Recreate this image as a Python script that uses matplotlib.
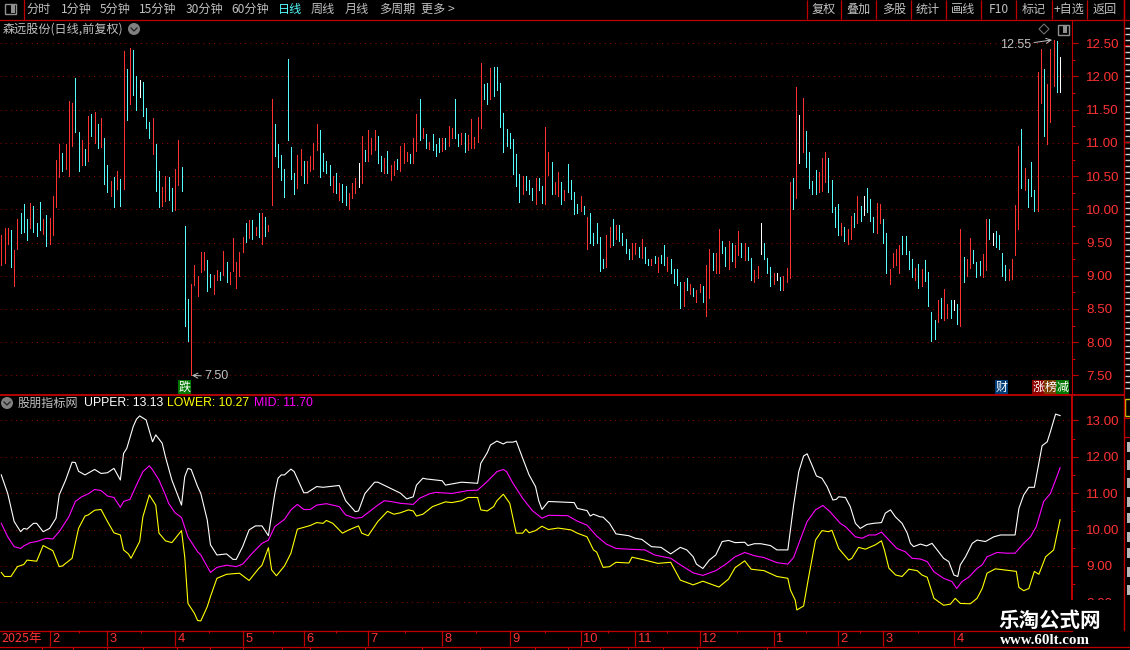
import matplotlib
matplotlib.use("Agg")
from matplotlib import pyplot as plt
from matplotlib.patches import Rectangle, Circle, Polygon
import numpy as np

plt.rcParams['font.family'] = ['Noto Sans CJK SC', 'DejaVu Sans']

# barras: maximo, minimo y color (r rojo, c cian, w blanco)
bar_high = [
    9.61, 9.72, 9.72, 9.69, 9.39, 9.85, 9.94, 10.08, 9.85, 10.1,
    10.05, 9.79, 10.11, 9.85, 9.91, 9.87, 10.2, 10.75, 10.99, 10.85,
    10.99, 11.63, 11.6, 11.97, 11.17, 11.05, 10.91, 11.41, 11.44, 11.46,
    11.28, 11.38, 11.08, 10.67, 10.43, 10.49, 10.58, 10.46, 12.38, 12.11,
    12.43, 12.4, 12.0, 11.94, 11.91, 11.52, 11.32, 11.38, 10.99, 10.58,
    10.34, 10.5, 10.49, 10.32, 10.61, 11.04, 10.64, 9.75, 8.65, 8.87,
    9.16, 8.99, 9.36, 9.36, 9.24, 9.03, 9.01, 9.09, 9.06, 9.37,
    9.21, 9.06, 9.57, 9.21, 9.36, 9.58, 9.79, 9.84, 9.84, 9.73,
    9.94, 9.94, 9.88, 9.76, 11.66, 11.29, 10.99, 10.82, 10.61, 12.26,
    10.94, 10.54, 10.82, 10.91, 10.72, 10.72, 10.81, 11.0, 11.28, 11.19,
    10.85, 10.73, 10.66, 10.5, 10.55, 10.4, 10.38, 10.35, 10.25, 10.4,
    10.47, 10.69, 11.1, 10.9, 11.19, 11.08, 11.2, 11.11, 10.81, 10.78,
    10.88, 10.66, 10.73, 10.76, 10.96, 11.0, 10.87, 10.84, 11.08, 11.43,
    11.66, 11.23, 11.14, 11.02, 11.14, 10.99, 11.08, 11.08, 11.08, 11.26,
    11.23, 11.66, 11.14, 11.15, 11.15, 11.12, 11.36, 11.09, 11.39, 12.2,
    11.88, 11.9, 12.13, 12.14, 12.14, 11.9, 11.45, 11.21, 11.15, 11.06,
    10.83, 10.53, 10.5, 10.5, 10.44, 10.32, 10.47, 10.47, 10.35, 11.24,
    10.86, 10.71, 10.41, 10.56, 10.41, 10.29, 10.68, 10.44, 10.26, 10.08,
    10.2, 10.05, 9.89, 9.95, 9.64, 9.8, 9.58, 9.25, 9.62, 9.73,
    9.86, 9.77, 9.77, 9.65, 9.56, 9.41, 9.49, 9.49, 9.43, 9.56,
    9.44, 9.25, 9.25, 9.29, 9.28, 9.31, 9.46, 9.28, 9.25, 9.1,
    9.1, 8.9, 8.9, 8.96, 8.88, 8.82, 8.78, 8.88, 8.85, 9.16,
    9.4, 9.35, 9.34, 9.71, 9.53, 9.44, 9.52, 9.49, 9.46, 9.67,
    9.49, 9.49, 9.44, 9.26, 9.08, 9.14, 9.8, 9.5, 9.26, 9.13,
    9.04, 9.04, 8.98, 9.0, 9.11, 10.41, 10.47, 11.84, 11.42, 11.67,
    11.18, 10.87, 10.42, 10.59, 10.56, 10.77, 10.87, 10.77, 10.44, 10.04,
    10.08, 9.8, 9.74, 9.71, 9.9, 9.95, 10.2, 10.05, 10.2, 10.32,
    10.16, 9.88, 10.1, 10.08, 9.86, 9.64, 9.1, 9.34, 9.4, 9.46,
    9.6, 9.6, 9.37, 9.25, 9.11, 9.17, 9.1, 9.23, 9.05, 8.46,
    8.34, 8.63, 8.66, 8.8, 8.58, 8.63, 8.64, 8.57, 9.71, 9.28,
    9.25, 9.57, 9.39, 9.21, 9.22, 9.33, 9.86, 9.86, 9.65, 9.67,
    9.61, 9.35, 9.16, 9.1, 9.25, 10.07, 10.96, 11.21, 10.62, 10.45,
    10.71, 10.29, 12.07, 12.41, 12.11, 11.89, 12.41, 12.55, 12.53, 12.3,
]
bar_low = [
    9.16, 9.19, 9.48, 9.13, 8.85, 9.4, 9.64, 9.66, 9.54, 9.72,
    9.66, 9.6, 9.69, 9.63, 9.45, 9.48, 9.61, 10.04, 10.49, 10.57,
    10.61, 10.5, 10.96, 11.16, 10.58, 10.66, 10.67, 10.72, 11.11, 11.0,
    10.93, 10.94, 10.38, 10.26, 10.2, 10.04, 10.31, 10.05, 10.31, 11.34,
    11.58, 11.72, 11.49, 11.69, 11.41, 11.23, 11.07, 10.84, 10.28, 10.04,
    10.05, 10.13, 10.14, 9.97, 9.99, 10.37, 10.28, 8.24, 8.02, 7.5,
    8.86, 8.69, 9.06, 9.09, 8.77, 8.83, 8.72, 8.94, 8.94, 9.01,
    8.91, 8.88, 9.07, 8.82, 9.0, 9.36, 9.51, 9.57, 9.55, 9.61,
    9.58, 9.48, 9.6, 9.67, 10.07, 10.81, 10.63, 10.44, 10.19, 11.05,
    10.46, 10.23, 10.32, 10.52, 10.4, 10.4, 10.58, 10.61, 10.9, 10.49,
    10.57, 10.55, 10.37, 10.26, 10.25, 10.14, 10.11, 10.07, 10.0, 10.17,
    10.25, 10.34, 10.4, 10.72, 10.72, 10.84, 10.9, 10.7, 10.58, 10.55,
    10.55, 10.44, 10.52, 10.6, 10.58, 10.69, 10.72, 10.69, 10.7, 10.88,
    11.05, 11.08, 10.93, 10.91, 10.9, 10.81, 10.87, 10.88, 10.91, 10.96,
    11.08, 11.08, 10.96, 10.98, 10.87, 10.9, 10.93, 10.93, 11.01, 11.22,
    11.66, 11.58, 11.66, 11.7, 11.79, 11.24, 10.87, 10.96, 10.93, 10.53,
    10.35, 10.11, 10.23, 10.29, 10.23, 10.14, 10.08, 10.29, 10.09, 10.08,
    10.51, 10.23, 10.23, 10.2, 10.08, 10.14, 10.26, 10.15, 9.93, 9.94,
    9.98, 9.93, 9.4, 9.5, 9.47, 9.49, 9.07, 9.11, 9.13, 9.44,
    9.46, 9.55, 9.53, 9.47, 9.35, 9.25, 9.25, 9.32, 9.28, 9.26,
    9.19, 9.16, 9.16, 9.19, 9.05, 9.19, 9.16, 9.07, 9.04, 8.89,
    8.86, 8.52, 8.55, 8.79, 8.72, 8.7, 8.61, 8.76, 8.61, 8.4,
    8.66, 9.08, 9.04, 9.04, 9.34, 9.14, 9.1, 9.22, 9.13, 9.31,
    9.28, 9.23, 9.23, 8.93, 8.91, 8.97, 9.32, 9.25, 9.04, 8.84,
    8.87, 8.93, 8.79, 8.79, 8.91, 8.97, 10.0, 10.17, 10.69, 10.86,
    10.63, 10.32, 10.23, 10.23, 10.26, 10.27, 10.41, 10.26, 9.96, 9.73,
    9.61, 9.61, 9.53, 9.48, 9.56, 9.73, 9.8, 9.83, 9.92, 9.96,
    9.83, 9.66, 9.65, 9.8, 9.5, 9.04, 8.87, 9.13, 9.16, 9.04,
    9.32, 9.32, 9.1, 8.98, 8.93, 8.82, 8.85, 8.92, 8.55, 8.02,
    8.05, 8.31, 8.36, 8.33, 8.37, 8.36, 8.49, 8.27, 8.25, 8.91,
    8.99, 9.11, 9.19, 8.98, 9.01, 8.98, 9.08, 9.55, 9.46, 9.43,
    9.41, 9.0, 8.93, 8.93, 8.95, 9.31, 9.71, 10.32, 10.29, 10.04,
    10.2, 9.98, 9.97, 11.6, 11.11, 10.98, 11.32, 11.86, 11.77, 11.77,
]
bar_kind = (
    "rrrcrrcccr" "cccrcrrrrc" "rrrccrcrcr" "crccrcrcrc" "rccwcccrcc"
    "rrccrrcccr" "rrrrccrrcr" "crrrrrcrcr" "crcrrccccc" "ccrrcrrrrc"
    "cccrcrccrr" "rwrcrrrccr" "crrcrrrcrr" "crcrcccrcr" "rccrcrrrrr"
    "ccrccccccc" "ccrcccrccr" "rcrrcrcccc" "rcrcccccrr" "crccccrrcr"
    "ccrcrccrcc" "ccrcrcrrcr" "rcrrccrcrr" "crccrrwccc" "rwcrrrcrwr"
    "ccccrrrccc" "crcrrcrcwc" "ccrrccrrrr" "ccccrcrccc" "crcrrcwcrc"
    "rrcccrrcwc" "cccrrrrcrc" "ccrrcrrrcw"
)

# indicador: posicion en barras y valor
upper_x = [0, 2, 4, 6, 7, 8, 10, 11, 13, 15, 17, 18, 20, 22, 23, 24, 26, 29, 31, 33, 35, 37, 38, 39, 41, 42, 43,
           45, 47, 48, 50, 51, 53, 56, 57, 58, 59, 61, 62, 64, 65, 67, 70, 72, 73, 75, 77, 79, 81, 83, 85, 86,
           87, 88, 90, 91, 94, 95, 98, 100, 105, 107, 110, 111, 113, 116, 117, 121, 124, 126, 128, 129, 131,
           132, 137, 138, 143, 148, 149, 151, 152, 154, 156, 157, 159, 160, 162, 164, 166, 167, 168, 170, 178,
           179, 182, 183, 184, 186, 187, 189, 191, 195, 197, 199, 202, 205, 208, 211, 213, 215, 216, 218, 220,
           222, 224, 226, 228, 231, 232, 234, 236, 239, 241, 244.4, 246.2, 247.8, 249.3, 250.4, 251.9, 253.3,
           255, 256.6, 258.4, 259.5, 260.2, 262.3, 263.8, 265.4, 266.9, 269, 271, 273.5, 274.7, 276.3, 277.8,
           279.9, 281.5, 282.5, 283.5, 285.6, 287.5, 289.2, 290.8, 292.8, 294.4, 296, 297.2, 298, 299.6, 301.7,
           303.2, 305.8, 308.4, 310.5, 315, 316.2, 317.7, 319.3, 321, 322, 323.4, 325, 326, 327.6, 329]
upper_y = [11.5, 10.99, 10.22, 9.94, 10.03, 10.01, 10.17, 10.17, 9.94, 10.03, 10.31, 10.95, 11.36, 11.85, 11.84,
           11.6, 11.5, 11.65, 11.54, 11.56, 11.68, 11.36, 12.09, 12.23, 12.83, 13.03, 13.12, 13.01, 12.41, 12.6,
           12.37, 12.0, 11.36, 10.67, 11.45, 11.68, 11.65, 11.18, 10.99, 10.26, 9.58, 9.3, 9.33, 9.18, 9.18,
           9.53, 9.99, 10.1, 10.1, 9.83, 10.99, 11.41, 11.5, 11.5, 11.66, 11.59, 11.01, 11.01, 11.18, 11.16,
           11.21, 10.79, 10.49, 10.51, 10.99, 11.3, 11.3, 11.13, 11.0, 10.84, 10.9, 11.22, 11.41, 11.39, 11.34,
           11.22, 11.3, 11.27, 11.82, 12.11, 12.32, 12.43, 12.35, 12.4, 12.4, 12.43, 11.96, 11.5, 11.18, 10.79,
           10.55, 10.77, 10.74, 10.58, 10.52, 10.37, 10.42, 10.35, 10.34, 10.17, 9.88, 9.83, 9.76, 9.73, 9.53,
           9.51, 9.33, 9.51, 9.44, 9.25, 9.05, 8.93, 9.16, 9.3, 9.67, 9.7, 9.64, 9.65, 9.56, 9.61, 9.61, 9.56,
           9.44, 9.44, 10.67, 11.59, 12.02, 12.08, 11.77, 11.47, 11.41, 11.18, 10.81, 10.83, 10.9, 10.88, 10.63,
           10.17, 10.03, 10.14, 10.17, 10.19, 10.45, 10.54, 10.35, 10.17, 9.9, 9.62, 9.53, 9.6, 9.55, 9.62,
           9.44, 9.21, 9.12, 8.75, 8.71, 9.03, 9.25, 9.62, 9.71, 9.67, 9.8, 9.85, 9.85, 10.58, 10.95, 11.16,
           11.16, 11.64, 12.3, 12.41, 12.69, 13.17, 13.13]

mid_x = [0, 2, 4, 6, 7, 9, 11, 14, 16, 18, 21, 23, 25, 27, 29, 31, 33, 35, 37, 38, 40, 42, 44, 46, 47, 49, 51, 52,
         54, 56, 58, 61, 62, 65, 67, 70, 73, 75, 78, 81, 83, 85, 88, 90, 92, 94, 96, 98, 101, 105, 107, 110, 112,
         113, 117, 119, 121, 124, 128, 130, 133, 135, 140, 145, 148, 151, 154, 156, 157, 159, 162, 165, 168, 170,
         176, 179, 182, 185, 188, 191, 195, 200, 203, 208, 211, 215, 218, 222, 225, 228, 231, 234, 237, 241, 244.4,
         246.2, 248.3, 250.4, 253, 255.3, 257.5, 260.7, 262.3, 265.4, 267.5, 269.6, 271.7, 273.5, 275.8, 278.3,
         280.9, 283, 285.6, 287.7, 289.8, 292.8, 295.4, 296.9, 298.5, 300.6, 303.2, 304.8, 306.3, 309.4, 312.5,
         315, 317.7, 319.8, 321.6, 323.9, 326, 327.6, 329]
mid_y = [10.17, 9.8, 9.53, 9.48, 9.55, 9.64, 9.67, 9.76, 9.74, 9.94, 10.35, 10.77, 10.9, 10.98, 11.1, 11.07, 10.92,
         10.88, 10.61, 10.77, 10.83, 11.22, 11.59, 11.75, 11.64, 11.36, 10.95, 10.72, 10.46, 10.33, 9.8, 9.39, 9.3,
         8.82, 8.96, 9.02, 8.98, 9.05, 9.35, 9.62, 9.71, 10.08, 10.28, 10.54, 10.69, 10.55, 10.55, 10.67, 10.71,
         10.63, 10.4, 10.31, 10.33, 10.4, 10.67, 10.79, 10.77, 10.72, 10.69, 10.86, 10.98, 11.02, 10.99, 11.07,
         11.08, 11.32, 11.59, 11.65, 11.59, 11.27, 10.86, 10.52, 10.31, 10.39, 10.38, 10.23, 10.12, 9.82, 9.6, 9.48,
         9.46, 9.44, 9.3, 9.21, 9.03, 8.81, 8.74, 8.87, 9.04, 9.25, 9.37, 9.28, 9.23, 9.09, 9.05, 9.23, 9.73, 10.22,
         10.54, 10.66, 10.49, 10.17, 10.08, 9.8, 9.76, 9.85, 9.85, 9.93, 9.71, 9.48, 9.39, 9.21, 9.19, 9.12, 8.84,
         8.66, 8.57, 8.38, 8.57, 8.69, 8.93, 9.03, 9.25, 9.37, 9.35, 9.35, 9.62, 9.8, 10.08, 10.77, 10.99, 11.36,
         11.7]

lower_x = [0, 1, 3, 5, 7, 8, 11, 13, 16, 18, 19, 22, 24, 26, 27, 29, 31, 33, 35, 37, 38, 39.5, 40.3, 43, 44, 46, 48,
           49, 51, 53, 56, 57, 58, 60, 61, 62, 64, 65, 67, 70, 74, 77, 80, 81, 83, 84, 85.5, 88, 90, 92, 96, 98, 100,
           101, 103, 106, 108, 111, 112, 114, 117, 120, 122, 124, 126.5, 128, 129, 131, 134, 138, 140, 143, 145,
           148, 149, 151, 153, 154, 156, 158, 160, 162, 163, 164, 166, 168, 170, 173, 177, 179, 182, 184, 185, 187,
           189, 191, 195, 196, 200, 204, 208, 211, 215, 218, 223, 226, 228, 231, 233, 237, 241, 244.4, 245.2, 246.7,
           247.2, 249.3, 250.9, 253, 255, 257.1, 258.1, 260.2, 263.3, 264.3, 266.4, 268.5, 271.6, 273.5, 274.4,
           275.8, 277.9, 279.9, 282, 284.6, 286.1, 287.7, 289.8, 292.8, 294.9, 296.4, 298, 301.1, 303.2, 304.8,
           306.3, 308.9, 313.6, 315.4, 316.2, 317.7, 319.3, 321, 322.4, 324.5, 327, 329]
lower_y = [8.82, 8.71, 8.71, 8.98, 9.04, 9.16, 9.13, 9.56, 9.42, 8.98, 9.0, 9.21, 10.03, 10.37, 10.4, 10.53, 10.55,
           10.22, 9.91, 9.85, 9.44, 9.33, 9.21, 9.67, 10.35, 10.95, 10.67, 9.9, 9.69, 9.64, 9.97, 9.25, 7.97, 7.7,
           7.5, 7.49, 7.88, 8.16, 8.66, 8.77, 8.8, 8.6, 8.93, 9.02, 9.5, 8.89, 8.73, 9.0, 9.35, 10.01, 10.11, 10.19,
           10.17, 10.25, 10.17, 9.9, 9.99, 10.1, 9.9, 9.83, 10.22, 10.5, 10.42, 10.46, 10.54, 10.51, 10.37, 10.42,
           10.63, 10.76, 10.74, 10.79, 10.88, 10.88, 10.54, 10.51, 10.63, 10.79, 10.97, 10.72, 9.9, 9.9, 10.01, 9.91,
           9.97, 10.09, 10.0, 10.04, 9.99, 9.9, 9.8, 9.44, 9.38, 8.96, 8.98, 9.1, 9.08, 9.24, 9.16, 9.07, 9.1, 8.61,
           8.48, 8.58, 8.42, 8.64, 8.95, 9.14, 8.91, 8.87, 8.71, 8.66, 8.34, 8.06, 7.79, 7.9, 8.71, 9.71, 9.97, 9.94,
           9.98, 9.48, 9.16, 9.21, 9.51, 9.46, 9.58, 9.69, 9.44, 8.94, 8.75, 8.71, 8.91, 8.87, 8.75, 8.69, 8.11, 7.92,
           7.95, 8.11, 7.97, 7.96, 8.11, 8.38, 8.8, 8.92, 8.87, 8.85, 8.41, 8.32, 8.38, 8.85, 8.77, 9.25, 9.44, 10.27]

price_ticks = [12.5, 12.0, 11.5, 11.0, 10.5, 10.0, 9.5, 9.0, 8.5, 8.0, 7.5]
ind_ticks = [13, 12, 11, 10, 9, 8]
month_pos = [15, 33, 54, 75, 94, 114, 137, 158, 180, 197, 217, 240, 260, 274, 296]
month_labels = ["2", "3", "4", "5", "6", "7", "8", "9", "10", "11", "12", "1", "2", "3", "4"]

left_menu = ["分时", "1分钟", "5分钟", "15分钟", "30分钟", "60分钟", "日线", "周线", "月线", "多周期", "更多 >"]
left_menu_x = [39, 76, 115, 158, 204, 250, 290, 323, 357, 397, 438]
right_menu = ["复权", "叠加", "多股", "统计", "画线", "F10", "标记", "+自选", "返回"]
right_menu_x = [824, 858, 894, 928, 963, 999, 1034, 1069, 1105]
right_menu_sep = [807, 841, 876, 911, 946, 981, 1016, 1052, 1087, 1124]

RED = "#ff3232"
CYAN = "#54fcfc"
LINE = "#c00000"
GRID = "#8c0000"
GREY = "#c0c0c0"
colors = {"r": RED, "c": CYAN, "w": "#ffffff"}

W, H = 1130, 650
fig = plt.figure(figsize=(W / 100, H / 100), dpi=100, facecolor="black")


def px_axes(x0, y0, x1, y1, **kw):
    return fig.add_axes([x0 / W, 1 - y1 / H, (x1 - x0) / W, (y1 - y0) / H], facecolor="black", **kw)


def style(ax, ticks, minor, spine_w):
    for s in ax.spines.values():
        s.set_visible(False)
    ax.spines["right"].set_visible(True)
    ax.spines["right"].set_color(LINE)
    ax.spines["right"].set_linewidth(spine_w)
    ax.set_xlim(-0.4, 332.7)
    ax.set_xticks([])
    ax.yaxis.tick_right()
    ax.set_yticks(ticks)
    ax.set_yticklabels([f"{t:.2f}" for t in ticks], family="Liberation Sans", fontsize=9.6, color=RED)
    ax.set_yticks(minor, minor=True)
    ax.tick_params(axis="y", which="major", length=4, width=0.8, color=LINE, pad=6)
    ax.tick_params(axis="y", which="minor", length=2, width=0.8, color=LINE)
    for t in ticks:
        ax.axhline(t, color=GRID, lw=0.75, ls=(0, (1, 4)), zorder=1)


# panel de precios
ax = px_axes(0, 20, 1072, 394)
ax.set_ylim(7.22, 12.85)
style(ax, price_ticks, [t + 0.25 for t in price_ticks[1:]], 0.8)
idx = np.arange(len(bar_high))
for k in "rcw":
    sel = [i for i, c in zip(idx, bar_kind, strict=True) if c == k]
    ax.vlines(sel, [bar_low[i] for i in sel], [bar_high[i] for i in sel],
              colors=colors[k], lw=0.7, antialiased=False, zorder=3)

ax.annotate("12.55", xy=(326.5, 12.55), xytext=(315.2, 12.47), color=GREY, fontsize=9, family="Liberation Sans",
            va="center", ha="center",
            arrowprops=dict(arrowstyle="->", color=GREY, lw=0.7, shrinkA=0, shrinkB=0))
ax.annotate("7.50", xy=(59.2, 7.5), xytext=(63, 7.485), color=GREY, fontsize=9, family="Liberation Sans",
            va="center", ha="left",
            arrowprops=dict(arrowstyle="->", color=GREY, lw=0.7, shrinkA=0, shrinkB=0))

# panel del indicador
ax2 = px_axes(0, 395, 1072, 630)
ax2.set_ylim(7.24, 13.695)
style(ax2, ind_ticks, [t + 0.5 for t in ind_ticks[1:]], 1.4)
ax2.plot(upper_x, upper_y, color="#ffffff", lw=0.8, zorder=3)
ax2.plot(mid_x, mid_y, color="#ff00ff", lw=0.8, zorder=4)
ax2.plot(lower_x, lower_y, color="#ffff00", lw=0.8, zorder=3)

# eje de fechas
ax3 = px_axes(0, 630, 1130, 650)
ax3.set_axis_off()
ax3.set_xlim(-0.4, -0.4 + 1130 / 3.218)
ax3.set_ylim(20, 0)
ax3.vlines(month_pos, 0, 16, color=LINE, lw=0.9)
mids = [(a + b) / 2 for a, b in zip(month_pos[:-1], month_pos[1:])]
ax3.vlines(mids, 0, 2.5, color=LINE, lw=0.8)
for m, lab in zip(month_pos, month_labels):
    ax3.text(m + 0.8, 8.5, lab, color=RED, fontsize=9.3, family="Liberation Sans", va="center", ha="left")
ax3.text(0.2, 8.5, "2025年", color=RED, fontsize=9, va="center", ha="left")

# adornos en pixeles
ov = fig.add_axes([0, 0, 1, 1], facecolor="none", zorder=10)
ov.set_xlim(0, W)
ov.set_ylim(H, 0)
ov.set_axis_off()
ov.plot([0, W], [19.5, 19.5], color=LINE, lw=0.9)
ov.plot([0, 1124], [394.5, 394.5], color=LINE, lw=1.3)
ov.plot([0, 1072], [630.5, 630.5], color=LINE, lw=0.9)
ov.plot([0, W], [646.5, 646.5], color=LINE, lw=0.9)
ov.plot([23.5, 23.5], [0, 19], color=LINE, lw=0.9)
ov.plot([1123.5, 1123.5], [0, 630], color=LINE, lw=1.0)
ov.vlines(right_menu_sep, 0, 19, color=LINE, lw=0.9)
ov.vlines([42, 73, 107, 143, 177, 210, 243, 282, 310, 365, 422, 480, 535, 568, 600, 628, 663, 697, 767],
          646.5, 650, color=LINE, lw=0.8)
ov.add_patch(Rectangle((5, 4), 11, 10, fc="none", ec="#909090", lw=1))
ov.add_patch(Rectangle((11, 5), 4, 8, fc="#909090", ec="none"))

# franja recortada a la derecha
ov.hlines(np.arange(28, 392, 6), 1125, 1130, color="#d0d0d0", lw=1.0)
ov.hlines([45, 142, 418, 437], 1124, 1130, color=LINE, lw=0.9)
ov.add_patch(Rectangle((1125, 399), 8, 17, fc="none", ec="#c8c800", lw=1))
for y in [447, 465, 483, 502, 518, 537, 553, 572, 590]:
    ov.add_patch(Rectangle((1127, y - 5), 3, 10, fc="#b8b8b8", ec="none"))

for x, s in zip(left_menu_x, left_menu):
    ov.text(x, 9.5, s, color=CYAN if s == "日线" else GREY, fontsize=8.7, ha="center", va="center")
for x, s in zip(right_menu_x, right_menu):
    ov.text(x, 9.5, s, color=GREY, fontsize=8.7, ha="center", va="center")

ov.text(3, 29, "森远股份(日线,前复权)", color=GREY, fontsize=8.7, ha="left", va="center")
ov.add_patch(Circle((134, 29), 6, fc="#808080", ec="none"))
ov.plot([131, 134, 137], [28, 31, 28], color="#202020", lw=0.9)
ov.add_patch(Polygon([(1044, 24), (1049, 29), (1044, 34), (1039, 29)], fc="none", ec="#707070", lw=0.8))
ov.add_patch(Rectangle((1057.5, 24.5), 11, 10, fc="none", ec="#909090", lw=1))
ov.add_patch(Rectangle((1063, 26), 4, 7, fc="#909090", ec="none"))

ov.add_patch(Circle((7, 403), 6, fc="#808080", ec="none"))
ov.plot([4, 7, 10], [402, 405, 402], color="#202020", lw=0.9)
ov.text(18, 403, "股朋指标网", color=GREY, fontsize=8.7, ha="left", va="center")
ov.text(84, 403, "UPPER: 13.13", color="#ffffff", fontsize=8.8, family="Liberation Sans", ha="left", va="center")
ov.text(167, 403, "LOWER: 10.27", color="#ffff00", fontsize=8.8, family="Liberation Sans", ha="left", va="center")
ov.text(254, 403, "MID: 11.70", color="#ff00ff", fontsize=8.8, family="Liberation Sans", ha="left", va="center")

tags = [("跌", 178, "#007800"), ("财", 995, "#003c78"), ("涨", 1032, "#8c0000"),
        ("榜", 1044, "#7a3c00"), ("减", 1056, "#007800")]
for s, x, c in tags:
    ov.add_patch(Rectangle((x, 380), 13, 14, fc=c, ec="none"))
    ov.text(x + 6.5, 387, s, color="#ffffff", fontsize=8.7, ha="center", va="center")

# marca de agua
ov.add_patch(Rectangle((978, 600), 152, 50, fc="black", ec="none"))
ov.text(1050, 620, "乐淘公式网", color="#ffffff", fontsize=14.8, fontweight="bold",
        family="Noto Sans CJK SC", ha="center", va="center")
ov.text(1045, 640, "www.60lt.com", color="#ffffff", fontsize=10.8, fontweight="bold",
        family="Liberation Serif", ha="center", va="center")

fig.savefig("out.png", dpi=100, facecolor="black")
